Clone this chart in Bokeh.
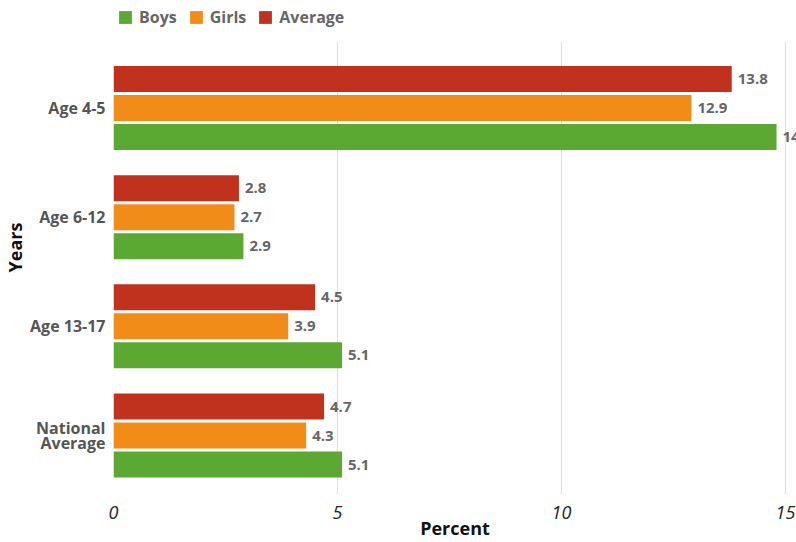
from bokeh.plotting import figure
from bokeh.models import (ColumnDataSource, LabelSet, Legend, LegendItem, FixedTicker,
                          Range1d, BoxAnnotation)
from bokeh.core.properties import value
from bokeh.embed import file_html
from bokeh.resources import INLINE

# ---- data ----
categories = ["Age 4-5", "Age 6-12", "Age 13-17", "National Average"]
category_labels = ["Age 4-5", "Age 6-12", "Age 13-17", "National\nAverage"]
series_names = ["Average", "Girls", "Boys"]
average = [13.8, 2.8, 4.5, 4.7]
girls = [12.9, 2.7, 3.9, 4.3]
boys = [14.8, 2.9, 5.1, 5.1]
x_ticks = [0, 5, 10, 15]

series_values = {"Average": average, "Girls": girls, "Boys": boys}
colors = {"Boys": "#5ba832", "Girls": "#f28c18", "Average": "#c1321e"}
offsets = {"Average": 0.2656, "Girls": 0.0, "Boys": -0.2656}

FONT = "Open Sans"
n = len(categories)
base_pos = [n - 1 - i for i in range(n)]
Y_BOTTOM, Y_PLOT_TOP, Y_TOP = -0.540, 3.609, 3.9845   # plotting area top; space above holds legend

p = figure(width=796, height=542, output_backend="svg", toolbar_location=None, title=None,
           x_range=Range1d(0, 15.2455), y_range=Range1d(Y_BOTTOM, Y_TOP),
           min_border_left=113, min_border_right=0, min_border_top=0, min_border_bottom=48)
p.outline_line_color = None
p.background_fill_color = "white"

p.xgrid.grid_line_color = "#dddddd"
p.xgrid.grid_line_width = 1
p.ygrid.grid_line_color = None

# mask grid lines above the plotting area (legend strip)
mask = BoxAnnotation(bottom=Y_PLOT_TOP, fill_color="white", fill_alpha=1.0,
                     line_color=None, level="underlay")
p.add_layout(mask)

renderers = {}
for s in series_names:
    vals = series_values[s]
    ys = [b + offsets[s] for b in base_pos]
    src = ColumnDataSource(dict(y=ys, x=vals, lbl=[f"{v:.1f}" for v in vals]))
    r = p.hbar(y="y", right="x", left=0, height=0.238, source=src,
               fill_color=colors[s], line_color=None)
    renderers[s] = r
    lab = LabelSet(x="x", y="y", text="lbl", source=src, x_offset=6,
                   text_baseline="middle", text_align="left",
                   text_font=value(FONT), text_font_style="bold", text_font_size="15px",
                   text_color="#666666")
    p.add_layout(lab)

# axes
p.xaxis.ticker = FixedTicker(ticks=x_ticks)
p.xaxis.axis_line_color = None
p.xaxis.major_tick_line_color = None
p.xaxis.minor_tick_line_color = None
p.xaxis.major_label_text_font = FONT
p.xaxis.major_label_text_font_style = "italic"
p.xaxis.major_label_text_font_size = "18px"
p.xaxis.major_label_text_color = "#222222"
p.xaxis.major_label_standoff = 5
p.xaxis.axis_label = "Percent"
p.xaxis.axis_label_text_font = FONT
p.xaxis.axis_label_text_font_style = "bold"
p.xaxis.axis_label_text_font_size = "18px"
p.xaxis.axis_label_text_color = "#111111"
p.xaxis.axis_label_standoff = -6

p.yaxis.ticker = FixedTicker(ticks=base_pos)
p.yaxis.major_label_overrides = {b: l for b, l in zip(base_pos, category_labels)}
p.yaxis.axis_line_color = None
p.yaxis.major_tick_line_color = None
p.yaxis.minor_tick_line_color = None
p.yaxis.major_label_text_font = FONT
p.yaxis.major_label_text_font_style = "bold"
p.yaxis.major_label_text_font_size = "16px"
p.yaxis.major_label_text_line_height = 0.7
p.yaxis.major_label_text_color = "#555555"
p.yaxis.major_label_standoff = 2
p.yaxis.axis_label = "Years"
p.yaxis.axis_label_text_font = FONT
p.yaxis.axis_label_text_font_style = "bold"
p.yaxis.axis_label_text_font_size = "18px"
p.yaxis.axis_label_text_color = "#111111"
p.yaxis.axis_label_standoff = 0

legend = Legend(items=[LegendItem(label=s, renderers=[renderers[s]]) for s in ["Boys", "Girls", "Average"]],
                orientation="horizontal", location=(4, 466),
                glyph_width=16, glyph_height=16, label_standoff=6, spacing=11,
                padding=0, margin=0, border_line_color=None, background_fill_alpha=0,
                label_text_font=FONT, label_text_font_style="bold",
                label_text_font_size="16px", label_text_color="#666666")
p.add_layout(legend, "center")

open("out.html", "w").write(file_html(p, INLINE))
